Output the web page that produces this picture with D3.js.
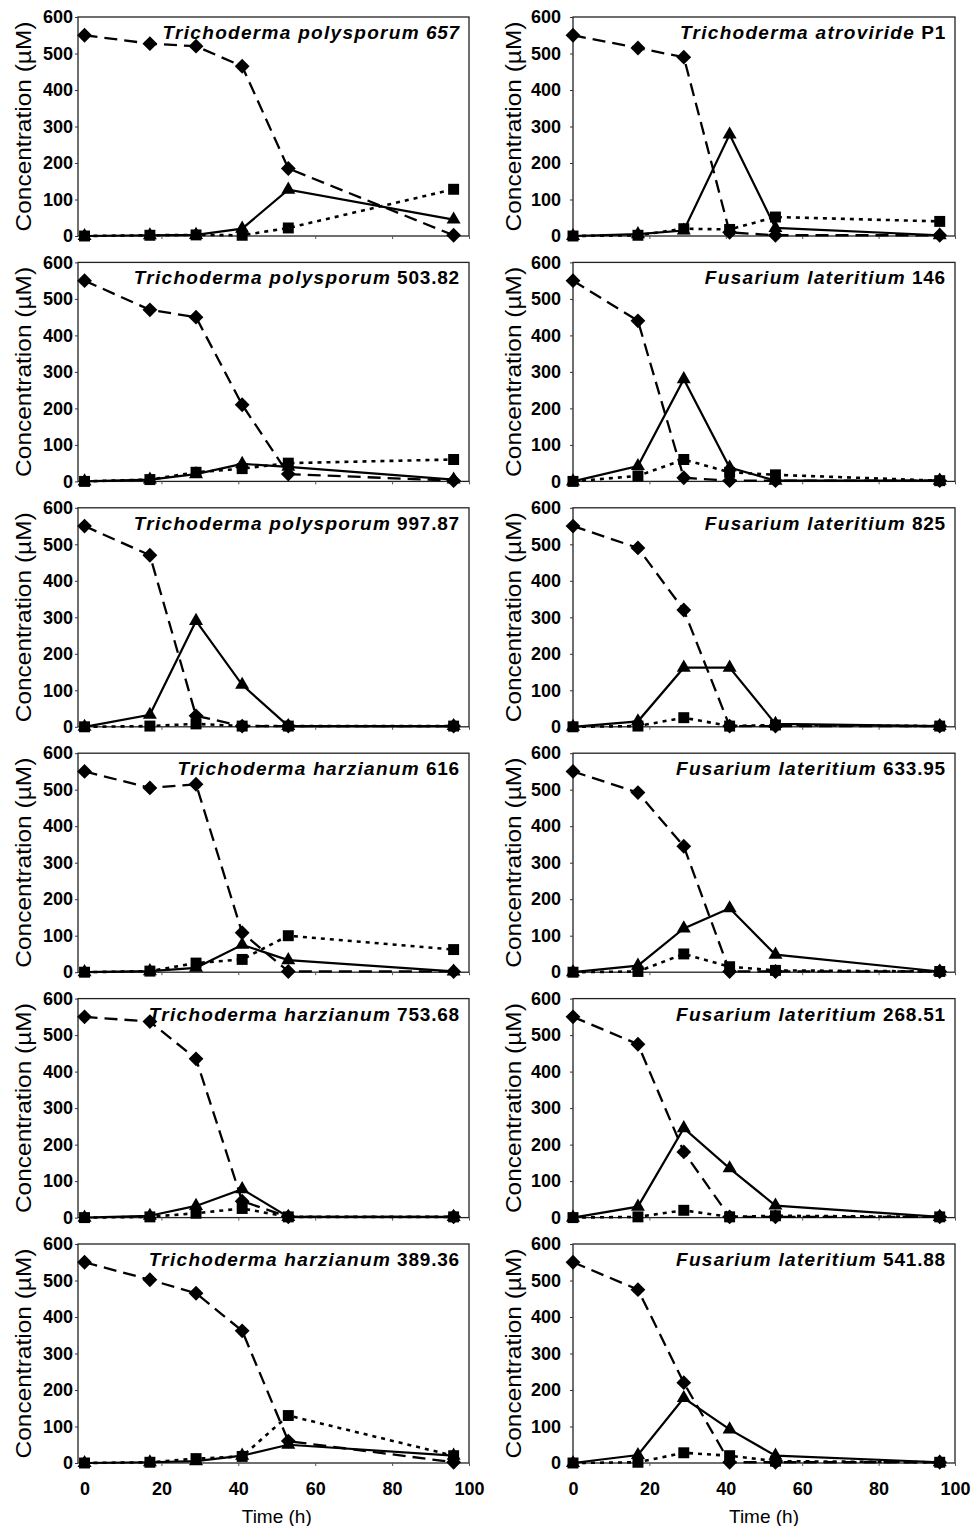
<!DOCTYPE html>
<html>
<head>
<meta charset="utf-8">
<script src="https://cdn.jsdelivr.net/npm/d3@7"></script>
<style>
  body { margin: 0; background: #fff; }
  svg { display: block; font-family: "Liberation Sans", Arial, sans-serif; }
</style>
</head>
<body>
<svg id="chart" width="972" height="1526"></svg>
<script>
// sampling times (h)
const times = [0, 17, 29, 41, 53, 96];

// panel order: row by row, left then right
const species = [
  "Trichoderma polysporum", "Trichoderma atroviride",
  "Trichoderma polysporum", "Fusarium lateritium",
  "Trichoderma polysporum", "Fusarium lateritium",
  "Trichoderma harzianum", "Fusarium lateritium",
  "Trichoderma harzianum", "Fusarium lateritium",
  "Trichoderma harzianum", "Fusarium lateritium"
];
const strains = ["657", "P1", "503.82", "146", "997.87", "825", "616", "633.95", "753.68", "268.51", "389.36", "541.88"];
const strainItalic = [true, false, false, false, false, false, false, false, false, false, false, false];

// diamond, dashed line
const diamondVals = [
  [550, 527, 520, 465, 185, 2],
  [550, 515, 490, 10, 2, 2],
  [550, 470, 450, 210, 20, 2],
  [550, 440, 10, 2, 2, 2],
  [550, 470, 30, 2, 2, 2],
  [550, 490, 320, 2, 2, 2],
  [550, 505, 515, 108, 2, 2],
  [550, 492, 345, 2, 2, 2],
  [550, 537, 435, 45, 2, 2],
  [550, 475, 180, 2, 2, 2],
  [550, 502, 465, 362, 60, 2],
  [550, 475, 220, 2, 2, 2]
];
// triangle, solid line
const triangleVals = [
  [0, 2, 3, 20, 127, 45],
  [0, 5, 15, 278, 22, 2],
  [0, 5, 20, 48, 40, 5],
  [0, 42, 280, 38, 2, 2],
  [0, 33, 290, 115, 2, 2],
  [0, 15, 162, 162, 8, 2],
  [0, 3, 12, 75, 33, 2],
  [0, 18, 120, 175, 48, 2],
  [0, 5, 32, 78, 2, 2],
  [0, 30, 245, 135, 33, 2],
  [0, 2, 5, 20, 50, 20],
  [0, 22, 178, 92, 20, 2]
];
// square, dotted line
const squareVals = [
  [0, 2, 3, 2, 22, 128],
  [0, 2, 20, 18, 52, 40],
  [0, 5, 25, 35, 50, 60],
  [0, 15, 60, 25, 18, 2],
  [0, 2, 8, 2, 2, 2],
  [0, 2, 25, 2, 5, 2],
  [0, 3, 25, 35, 100, 62],
  [0, 2, 50, 15, 5, 2],
  [0, 2, 12, 25, 2, 2],
  [0, 2, 20, 2, 5, 2],
  [0, 2, 12, 18, 130, 20],
  [0, 2, 28, 20, 5, 2]
];

const yTicks = [0, 100, 200, 300, 400, 500, 600];
const xTicks = [0, 20, 40, 60, 80, 100];

const svg = d3.select("#chart");

// column geometry
const cols = [
  { left: 78, right: 469, xmin: -1.7, labelX: 73, titleX: 31 },
  { left: 573, right: 955, xmin: 0, labelX: 561, titleX: 521 }
];
const rowTop = i => 17 + i * 245.4;
const plotH = 219;

const series = [
  { vals: diamondVals, dash: "13,7", width: 2.3, sym: "diamond" },
  { vals: triangleVals, dash: null, width: 2.2, sym: "triangle" },
  { vals: squareVals, dash: "4,5", width: 2.6, sym: "square" }
];

function symPath(type) {
  if (type === "diamond") return d3.symbol().type(d3.symbolSquare).size(110)();
  if (type === "triangle") return d3.symbol().type(d3.symbolTriangle).size(85)();
  return d3.symbol().type(d3.symbolSquare).size(120)();
}

species.forEach((sp, p) => {
  const row = Math.floor(p / 2), c = cols[p % 2];
  const top = rowTop(row), bottom = top + plotH;
  const x = d3.scaleLinear().domain([c.xmin, 100]).range([c.left, c.right]);
  const y = d3.scaleLinear().domain([0, 600]).range([bottom, top]);
  const g = svg.append("g");

  // plot frame
  g.append("rect")
    .attr("x", c.left).attr("y", top)
    .attr("width", c.right - c.left).attr("height", plotH)
    .attr("fill", "none").attr("stroke", "#222").attr("stroke-width", 1.3);

  // y axis labels
  const ya = g.append("g").attr("transform", `translate(${c.left},0)`)
    .call(d3.axisLeft(y).tickValues(yTicks).tickSize(3).tickPadding(c.left - c.labelX - 3));
  ya.select(".domain").remove();
  ya.selectAll("line").attr("stroke", "#333");
  ya.selectAll("text").attr("font-size", 18).attr("font-weight", "bold").attr("fill", "#000");

  // x axis: small ticks on every panel, labels only on last row
  const xa = g.append("g").attr("transform", `translate(0,${bottom})`)
    .call(d3.axisBottom(x).tickValues(xTicks).tickSize(3).tickPadding(16));
  xa.select(".domain").remove();
  xa.selectAll("line").attr("stroke", "#555");
  if (row === 5) {
    xa.selectAll("text").attr("font-size", 18).attr("font-weight", "bold").attr("fill", "#000");
    g.append("text")
      .attr("x", (x(0) + x(100)) / 2).attr("y", 1523)
      .attr("text-anchor", "middle").attr("font-size", 19)
      .text("Time (h)");
  } else {
    xa.selectAll("text").remove();
  }

  // y axis title
  g.append("text")
    .attr("transform", `translate(${c.titleX},${(top + bottom) / 2}) rotate(-90)`)
    .attr("text-anchor", "middle").attr("font-size", 22)
    .attr("textLength", 210).attr("lengthAdjust", "spacingAndGlyphs")
    .text("Concentration (µM)");

  // series lines then markers
  series.forEach(s => {
    const pts = times.map((t, i) => [t, s.vals[p][i]]);
    g.append("path")
      .datum(pts)
      .attr("fill", "none").attr("stroke", "#000")
      .attr("stroke-width", s.width)
      .attr("stroke-dasharray", s.dash)
      .attr("d", d3.line().x(d => x(d[0])).y(d => y(d[1])));
  });
  series.forEach(s => {
    const pts = times.map((t, i) => [t, s.vals[p][i]]);
    g.selectAll(null).data(pts).enter().append("path")
      .attr("d", symPath(s.sym))
      .attr("fill", "#000")
      .attr("transform", d => `translate(${x(d[0])},${y(d[1])})` + (s.sym === "diamond" ? " rotate(45)" : ""));
  });

  // panel title
  const t = g.append("text")
    .attr("x", c.right - 9).attr("y", top + 22)
    .attr("text-anchor", "end").attr("font-size", 19)
    .attr("font-weight", "bold").attr("letter-spacing", 1.3);
  t.append("tspan").attr("font-style", "italic").text(sp);
  t.append("tspan").attr("dx", 6)
    .attr("font-style", strainItalic[p] ? "italic" : "normal")
    .attr("letter-spacing", 0.8)
    .text(strains[p]);
});
</script>
</body>
</html>
